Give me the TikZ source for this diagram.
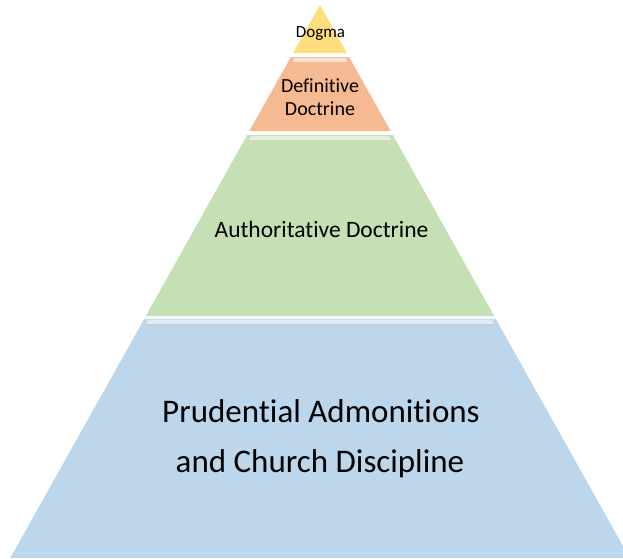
\documentclass[tikz,border=0pt]{standalone}
\usepackage{fontspec}
\setmainfont{Carlito}[Ligatures=NoCommon]
\usepackage{tikz}
\usetikzlibrary{positioning}

\definecolor{dogmaYellow}{RGB}{255,221,125}
\definecolor{defOrange}{RGB}{245,186,146}
\definecolor{authGreen}{RGB}{197,224,180}
\definecolor{prudBlue}{RGB}{188,214,236}

\begin{document}
\begin{tikzpicture}[x=1pt,y=-1pt,
  lbl/.style={anchor=base,inner sep=0pt,text=black},
  strip/.style={fill=#1!45!white}]
\useasboundingbox (0,0) rectangle (623,558);
\clip (0,0) rectangle (623,558);
% layers of the pyramid
\fill [dogmaYellow] (320,5) -- (346.9,53) -- (293.1,53) -- cycle;
\fill [defOrange] (290.9,57) -- (349.1,57) -- (390.6,131) -- (249.4,131) -- cycle;
\fill [authGreen] (247.2,135) -- (392.8,135) -- (494.2,316) -- (145.8,316) -- cycle;
\fill [prudBlue] (144.2,319) -- (495.8,319) -- (629.7,558) -- (10.3,558) -- cycle;
% light bevel on top of each layer
\fill [strip=defOrange] (294,57.8) -- (346,57.8) -- (347,62) -- (293,62) -- cycle;
\fill [strip=authGreen] (251,135.8) -- (389,135.8) -- (391,140) -- (249,140) -- cycle;
\fill [strip=prudBlue] (148,319.8) -- (492,319.8) -- (494,324) -- (146,324) -- cycle;
\draw [prudBlue!80!black!60, line width=0.4pt] (146,324) -- (494,324);
% labels
\node [lbl, font=\fontsize{17}{20}\selectfont] (dogma) at (320.5,37) {Dogma};
\node [lbl, font=\fontsize{20}{23}\selectfont] (def1) at (320,92) {Definitive};
\node [lbl, font=\fontsize{20}{23}\selectfont] (def2) at (320,115) {Doctrine};
\node [lbl, font=\fontsize{23.5}{28}\selectfont] (auth) at (321.5,237) {Authoritative Doctrine};
\node [lbl, font=\fontsize{33}{50}\selectfont] (prud1) at (321,422) {Prudential Admonitions};
\node [lbl, font=\fontsize{33}{50}\selectfont] (prud2) at (320,472) {and Church Discipline};
\end{tikzpicture}
\end{document}
